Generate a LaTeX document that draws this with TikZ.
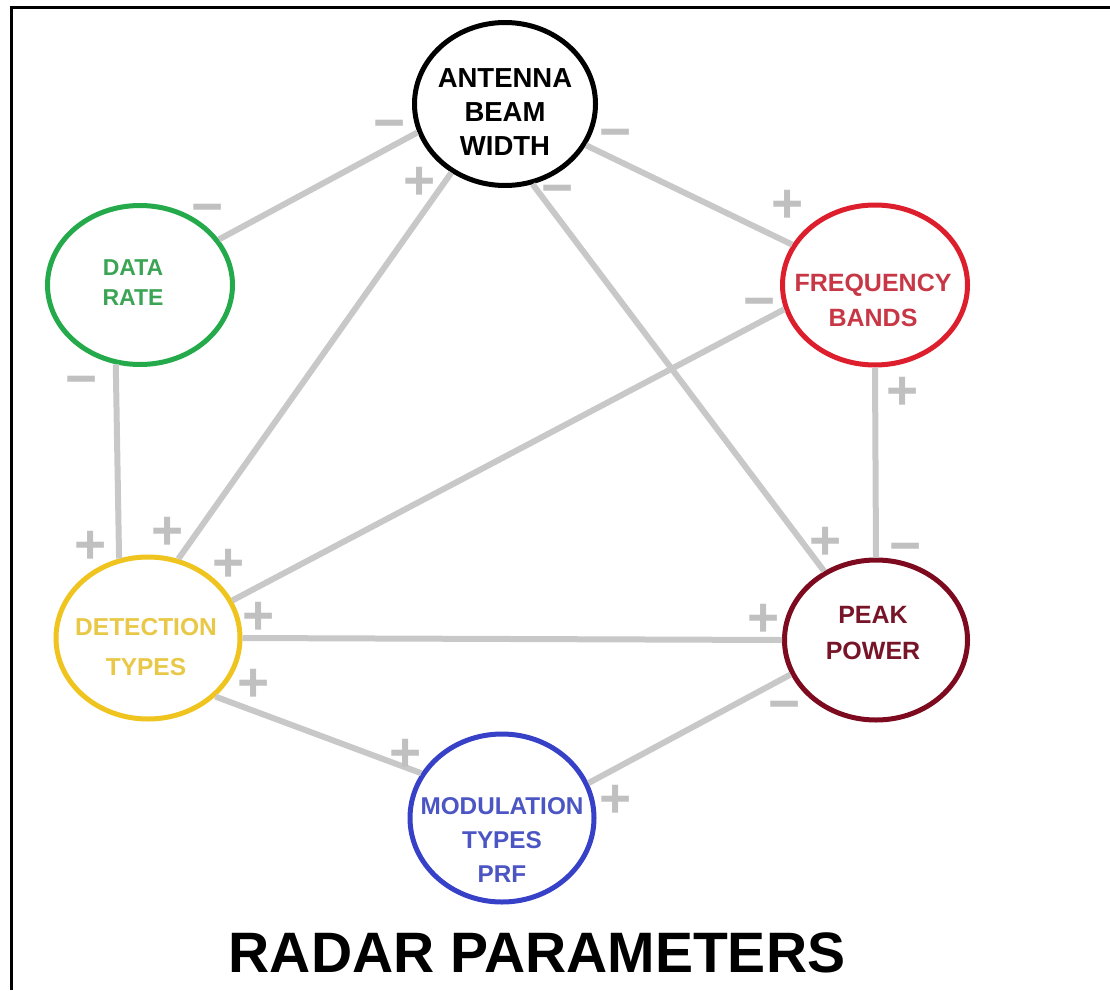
\documentclass[tikz,border=0pt]{standalone}
\usepackage{fontspec}
\setmainfont{Liberation Sans}
\usetikzlibrary{shapes.geometric}

% parameter colours
\definecolor{linkGray}{RGB}{200,200,200}
\definecolor{signGray}{RGB}{192,192,192}
\definecolor{rateGreen}{RGB}{36,170,75}
\definecolor{rateGreenTxt}{RGB}{60,165,85}
\definecolor{freqRed}{RGB}{220,30,45}
\definecolor{freqRedTxt}{RGB}{200,55,70}
\definecolor{detYellow}{RGB}{240,196,30}
\definecolor{detYellowTxt}{RGB}{232,200,70}
\definecolor{peakMaroon}{RGB}{125,10,30}
\definecolor{peakMaroonTxt}{RGB}{120,20,40}
\definecolor{modBlue}{RGB}{55,65,200}
\definecolor{modBlueTxt}{RGB}{75,85,195}

\begin{document}
\begin{tikzpicture}[x=1pt, y=-1pt,
  param/.style={ellipse, line width=5pt, fill=white, inner sep=0pt},
  ptext/.style={align=center, font=\bfseries},
  link/.style={draw=linkGray, line width=6pt},
  sign/.style={text=signGray, inner sep=0pt, text height=39pt, text depth=0pt,
    font=\fontsize{55}{55}\selectfont\bfseries}]
\useasboundingbox (0,0) rectangle (1110,990);
% Frame (top and left edge only)
\draw[line width=3pt] (11,990) -- (11,8) -- (1110,8);

% Parameter ellipses
\node[param, draw=black, minimum width=181, minimum height=163] (ant) at (505,104) {};
\node[param, draw=rateGreen, minimum width=185, minimum height=159] (rate) at (140,285) {};
\node[param, draw=freqRed, minimum width=185, minimum height=160] (freq) at (875,285) {};
\node[param, draw=detYellow, minimum width=184, minimum height=162] (det) at (148,638) {};
\node[param, draw=peakMaroon, minimum width=183, minimum height=160] (peak) at (876,640) {};
\node[param, draw=modBlue, minimum width=184, minimum height=168] (mod) at (502,818) {};

% Labels inside the ellipses
\node[ptext, font=\fontsize{27.5}{34}\selectfont\bfseries] (antT) at (505,112) {ANTENNA\\BEAM\\WIDTH};
\node[ptext, text=rateGreenTxt, font=\fontsize{23}{30}\selectfont\bfseries] (rateT) at (133,283) {DATA\\RATE};
\node[ptext, text=freqRedTxt, font=\fontsize{25}{35}\selectfont\bfseries] (freqT) at (873,300) {FREQUENCY\\BANDS};
\node[ptext, text=detYellowTxt, font=\fontsize{24.5}{40}\selectfont\bfseries] (detT) at (146,647) {DETECTION\\TYPES};
\node[ptext, text=peakMaroonTxt, font=\fontsize{25}{36}\selectfont\bfseries] (peakT) at (873,633) {PEAK\\POWER};
\node[ptext, text=modBlueTxt, font=\fontsize{24.3}{34}\selectfont\bfseries] (modT) at (502,840) {MODULATION\\TYPES\\PRF};

% Links between parameters
\draw[link] (ant.198) -- (rate.30);
\draw[link] (ant.232) -- (det.69);
\draw[link] (ant.289) -- (peak.127);
\draw[link] (ant.333) -- (freq.154);
\draw[link] (rate.253) -- (det.110);
\draw[link] (freq.195) -- (det.24);
\draw[link] (freq.270) -- (peak.90);
\draw[link] (det.0) -- (peak.180);
\draw[link] (det.319) -- (mod.151);
\draw[link] (peak.202) -- (mod.22);

% Trade-off signs
\node[sign] (s1) at (390,122) {−};
\node[sign] (s2) at (616,131) {−};
\node[sign] (s3) at (420,180) {+};
\node[sign] (s4) at (558,187) {−};
\node[sign] (s5) at (208,206) {−};
\node[sign] (s6) at (82,378) {−};
\node[sign] (s7) at (788,203) {+};
\node[sign] (s8) at (760,300) {−};
\node[sign] (s9) at (903,390) {+};
\node[sign] (s10) at (91,544) {+};
\node[sign] (s11) at (168,530) {+};
\node[sign] (s12) at (229,562) {+};
\node[sign] (s13) at (259,615) {+};
\node[sign] (s14) at (254,682) {+};
\node[sign] (s15) at (826,540) {+};
\node[sign] (s16) at (906,545) {−};
\node[sign] (s17) at (764,617) {+};
\node[sign] (s18) at (785,703) {−};
\node[sign] (s19) at (406,752) {+};
\node[sign] (s20) at (616,798) {+};

% Title
\node[font=\fontsize{57}{57}\selectfont\bfseries] (title) at (537,953) {RADAR PARAMETERS};
\end{tikzpicture}
\end{document}
